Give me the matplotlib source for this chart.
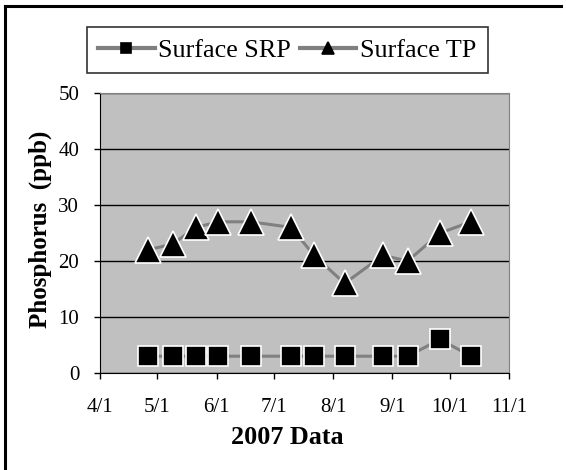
import matplotlib
matplotlib.use("Agg")
import matplotlib.pyplot as plt
import matplotlib.dates as mdates
from matplotlib.lines import Line2D
from matplotlib.ticker import FuncFormatter
import datetime as dt

plt.rcParams['font.family'] = ['Liberation Serif', 'DejaVu Serif']

# sample dates (2007) and phosphorus values (ppb)
dates = ["2007-04-26", "2007-05-09", "2007-05-21", "2007-06-02", "2007-06-19",
         "2007-07-10", "2007-07-22", "2007-08-07", "2007-08-27", "2007-09-09",
         "2007-09-26", "2007-10-12"]
srp = [3, 3, 3, 3, 3, 3, 3, 3, 3, 3, 6, 3]
tp = [22, 23, 26, 27, 27, 26, 21, 16, 21, 20, 25, 27]
month_ticks = ["2007-04-01", "2007-05-01", "2007-06-01", "2007-07-01",
               "2007-08-01", "2007-09-01", "2007-10-01", "2007-11-01"]

x = [dt.datetime.strptime(d, "%Y-%m-%d") for d in dates]
xt = [dt.datetime.strptime(d, "%Y-%m-%d") for d in month_ticks]

fig = plt.figure(figsize=(5.66, 4.70), dpi=100)
ax = fig.add_axes([100/566, 1-373/470, 409/566, 280/470])
ax.set_facecolor('#C0C0C0')

line_col = '#808080'
ax.plot(x, srp, color=line_col, lw=2.2, marker='s', ms=15, mfc='black',
        mec='white', mew=1.2, label='Surface SRP', zorder=3)
ax.plot(x, tp, color=line_col, lw=2.2, marker='^', ms=19, mfc='black',
        mec='white', mew=1.2, label='Surface TP', zorder=3)

ax.set_xlim(xt[0], xt[-1])
ax.set_ylim(0, 50)
ax.set_yticks(range(0, 51, 10))
ax.set_xticks(xt)
ax.xaxis.set_major_formatter(FuncFormatter(
    lambda v, p: f"{mdates.num2date(v).month}/{mdates.num2date(v).day}"))
ax.yaxis.grid(True, color='black', lw=1)
ax.set_axisbelow(True)
ax.tick_params(direction='out', length=4, width=1, labelsize=15, colors='black')
ax.tick_params(axis='x', pad=14)
ax.tick_params(axis='y', pad=11)

ax.spines['left'].set_color('black')
ax.spines['bottom'].set_color('black')
ax.spines['top'].set_color(line_col)
ax.spines['right'].set_color(line_col)

fig.text(40/566, 1-229/470, 'Phosphorus  (ppb)', rotation=90, ha='center',
         va='center', fontsize=18, fontweight='bold')
fig.text(287/566, 1-437/470, '2007 Data', ha='center', va='center',
         fontsize=18.8, fontweight='bold')

leg = fig.legend(loc='center', bbox_to_anchor=(287.5/566, 1-50/470), ncol=2,
                 fontsize=18.8, frameon=True, fancybox=False, edgecolor='black',
                 handlelength=2.15, columnspacing=0.35, handletextpad=0.15,
                 borderpad=0.42, borderaxespad=0)
leg.get_frame().set_linewidth(1.2)
for h, m in zip(leg.legend_handles, [7, 8]):
    h.set_markersize(m)
    h.set_markeredgecolor('black')
    h.set_linewidth(3)

# outer chart border (top and left edges visible)
fig.add_artist(Line2D([5/566, 561/566], [1-6/470, 1-6/470], color='black',
                      lw=2.2, transform=fig.transFigure))
fig.add_artist(Line2D([5/566, 5/566], [1-6/470, 0], color='black',
                      lw=2.2, transform=fig.transFigure))

fig.savefig('out.png', dpi=100)
